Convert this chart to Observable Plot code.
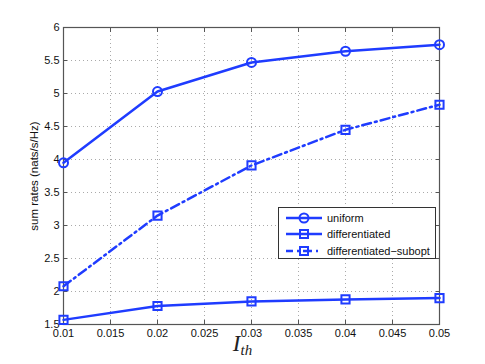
<!DOCTYPE html>
<html><head><meta charset="utf-8">
<script src="https://cdn.jsdelivr.net/npm/d3@7"></script>
<script src="https://cdn.jsdelivr.net/npm/@observablehq/plot@0.6"></script>
<style>
html,body{margin:0;padding:0;background:#fff;}
#wrap{position:relative;width:485px;height:364px;font-family:"Liberation Sans",Arial,sans-serif;}
#wrap g[aria-label="y-axis label"] text{font-size:11.5px;}
#legend{position:absolute;left:278px;top:207px;width:158px;height:52px;border:1px solid #333;background:#fff;box-sizing:border-box;}
#xlabel{position:absolute;left:0;width:485px;top:331px;text-align:center;font-family:"Liberation Serif","DejaVu Serif",serif;font-style:italic;font-size:23px;color:#222;}
#xlabel sub{font-size:15px;vertical-align:-4px;}
</style></head>
<body><div id="wrap"></div>
<script>
const xValues = [0.01, 0.02, 0.03, 0.04, 0.05];
const uniform = [3.95, 5.03, 5.47, 5.64, 5.74];
const differentiated = [1.57, 1.78, 1.85, 1.88, 1.90];
const subopt = [2.08, 3.15, 3.91, 4.45, 4.83];
const seriesNames = ["uniform", "differentiated", "differentiated\u2212subopt"];
const xTicks = [0.01, 0.015, 0.02, 0.025, 0.03, 0.035, 0.04, 0.045, 0.05];
const yTicks = [1.5, 2, 2.5, 3, 3.5, 4, 4.5, 5, 5.5, 6];

const blue = "#1f3cff";
const mk = (arr) => xValues.map((x, i) => ({x, y: arr[i]}));
const dU = mk(uniform), dD = mk(differentiated), dS = mk(subopt);

const axisColor = "#555";
const plot = Plot.plot({
  width: 485, height: 364,
  marginLeft: 63, marginRight: 46, marginTop: 27, marginBottom: 40,
  x: {domain: [0.01, 0.05]},
  y: {domain: [1.5, 6]},
  style: {fontFamily: "'Liberation Sans', Arial, sans-serif", fontSize: "11px", background: "#fff", color: "#111"},
  marks: [
    Plot.gridX(xTicks, {stroke: "#aaa", strokeOpacity: 1, strokeWidth: 1, strokeDasharray: "1,3"}),
    Plot.gridY(yTicks, {stroke: "#aaa", strokeOpacity: 1, strokeWidth: 1, strokeDasharray: "1,3"}),
    Plot.frame({stroke: axisColor, strokeWidth: 1.2}),
    Plot.axisX(xTicks, {anchor: "bottom", tickSize: -4, tickPadding: 9, stroke: axisColor, label: null, tickFormat: d => String(+d.toFixed(3))}),
    Plot.axisX(xTicks, {anchor: "top", tickSize: -4, stroke: axisColor, label: null, tickFormat: () => ""}),
    Plot.axisY(yTicks, {anchor: "left", tickSize: -4, tickPadding: 8, stroke: axisColor, label: "sum rates (nats/s/Hz)", labelAnchor: "center", labelArrow: "none", labelOffset: 34, tickFormat: d => String(d)}),
    Plot.axisY(yTicks, {anchor: "right", tickSize: -4, stroke: axisColor, label: null, tickFormat: () => ""}),
    Plot.line(dU, {x: "x", y: "y", stroke: blue, strokeWidth: 2.5}),
    Plot.line(dD, {x: "x", y: "y", stroke: blue, strokeWidth: 2.5}),
    Plot.line(dS, {x: "x", y: "y", stroke: blue, strokeWidth: 2.5, strokeDasharray: "9,4,2,4"}),
    Plot.dot(dU, {x: "x", y: "y", symbol: "circle", r: 4.5, stroke: blue, strokeWidth: 2, fill: "none"}),
    Plot.dot(dD, {x: "x", y: "y", symbol: "square", r: 4.6, stroke: blue, strokeWidth: 2, fill: "none"}),
    Plot.dot(dS, {x: "x", y: "y", symbol: "square", r: 4.6, stroke: blue, strokeWidth: 2, fill: "none"})
  ]
});
const wrap = document.getElementById("wrap");
wrap.appendChild(plot);

// legend
const leg = document.createElement("div");
leg.id = "legend";
const ns = "http://www.w3.org/2000/svg";
const ls = document.createElementNS(ns, "svg");
ls.setAttribute("width", 156); ls.setAttribute("height", 50);
const rows = [
  {name: seriesNames[0], y: 10, dash: null, sym: "circle"},
  {name: seriesNames[1], y: 26, dash: null, sym: "square"},
  {name: seriesNames[2], y: 43, dash: "9,4,2,4", sym: "square"}
];
rows.forEach(r => {
  const l = document.createElementNS(ns, "line");
  l.setAttribute("x1", 7); l.setAttribute("x2", 43); l.setAttribute("y1", r.y); l.setAttribute("y2", r.y);
  l.setAttribute("stroke", blue); l.setAttribute("stroke-width", 2.5);
  if (r.dash) { l.setAttribute("stroke-dasharray", r.dash); l.setAttribute("stroke-dashoffset", 2); }
  ls.appendChild(l);
  let m;
  if (r.sym === "circle") {
    m = document.createElementNS(ns, "circle");
    m.setAttribute("cx", 25); m.setAttribute("cy", r.y); m.setAttribute("r", 4.5);
  } else {
    m = document.createElementNS(ns, "rect");
    m.setAttribute("x", 21); m.setAttribute("y", r.y - 4); m.setAttribute("width", 8); m.setAttribute("height", 8);
  }
  m.setAttribute("fill", "none"); m.setAttribute("stroke", blue); m.setAttribute("stroke-width", 2);
  ls.appendChild(m);
  const t = document.createElementNS(ns, "text");
  t.setAttribute("x", 48); t.setAttribute("y", r.y); t.setAttribute("dy", "0.35em");
  t.setAttribute("font-size", 11); t.setAttribute("fill", "#111");
  t.setAttribute("font-family", "'Liberation Sans', Arial, sans-serif");
  t.textContent = r.name;
  ls.appendChild(t);
});
leg.appendChild(ls);
wrap.appendChild(leg);

const xl = document.createElement("div");
xl.id = "xlabel";
xl.innerHTML = "I<sub>th</sub>";
wrap.appendChild(xl);
</script></body></html>
